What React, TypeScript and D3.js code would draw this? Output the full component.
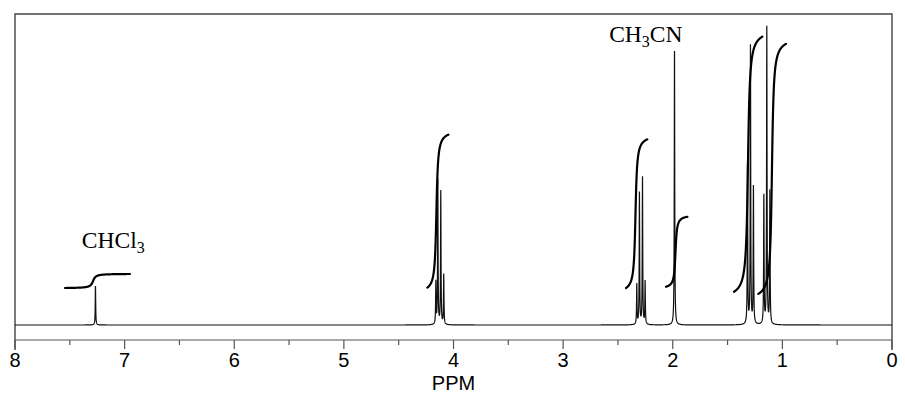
import React from 'react';
import * as d3 from 'd3';

// peaks: chemical shift (ppm) and apex height (0..100 of plot height)
const peakShifts = [
  7.266,
  4.161, 4.143, 4.116, 4.089,
  2.328, 2.304, 2.276, 2.252,
  1.984,
  1.318, 1.291, 1.264,
  1.169, 1.142, 1.114,
];
const peakHeights = [
  12.5,
  13.5, 46.5, 42.8, 16.1,
  12.9, 42.4, 47.3, 13.8,
  88.1,
  51.4, 89.4, 44.1,
  41.2, 95.5, 42.8,
];

// integral traces: region start/end (ppm), step centre and spread (ppm), start and end level
const integralFrom = [7.544, 4.239, 2.426, 2.062, 1.441, 1.22];
const integralTo = [6.951, 4.047, 2.232, 1.867, 1.183, 0.967];
const integralCenter = [7.288, 4.156, 2.34, 1.975, 1.314, 1.095];
const integralSpread = [0.018, 0.011, 0.011, 0.01, 0.013, 0.012];
const integralBase = [11.9, 12.0, 11.9, 12.3, 10.7, 10.0];
const integralTop = [16.4, 61.2, 59.7, 34.8, 92.7, 90.4];

const labels = [
  { text: 'CHCl', sub: '3', ppm: 7.39, level: 24.6 },
  { text: 'CH', sub: '3', after: 'CN', ppm: 2.58, level: 91.1 },
];

const ticks = [8, 7, 6, 5, 4, 3, 2, 1, 0];
const minorTicks = [7.5, 6.5, 5.5, 4.5, 3.5, 2.5, 1.5, 0.5];

const W = 905;
const H = 398;
const left = 15;
const right = 892;
const top = 14;
const baseY = 325;
const axisY = 340;

const lineWidth = 0.0025; // ppm half width of each line

export default function App() {
  const x = d3.scaleLinear().domain([8, 0]).range([left, right]);
  const y = d3.scaleLinear().domain([0, 100]).range([baseY, top]);

  const spectrumAt = (p: number) => {
    let s = 0;
    peakShifts.forEach((p0, i) => {
      const d = p - p0;
      s += (peakHeights[i] * lineWidth * lineWidth) / (d * d + lineWidth * lineWidth);
    });
    return s;
  };

  const grid = d3.range(8, -0.00001, -0.0005);
  // make sure each apex is sampled
  const samples = grid.concat(peakShifts).sort((a, b) => b - a);
  const spectrumLine = d3
    .line<number>()
    .x((p) => x(p))
    .y((p) => y(spectrumAt(p)));

  const integralPaths = integralFrom.map((from, r) => {
    const to = integralTo[r];
    const c = integralCenter[r];
    const w = integralSpread[r];
    const G = (p: number) => Math.atan((c - p) / w);
    const g0 = G(from);
    const g1 = G(to);
    const pts = d3.range(from, to - 0.00001, -0.001);
    const line = d3
      .line<number>()
      .x((p) => x(p))
      .y((p) => y(integralBase[r] + (integralTop[r] - integralBase[r]) * ((G(p) - g0) / (g1 - g0))))
      .curve(d3.curveBasis);
    return line(pts) || '';
  });

  return (
    <svg
      width={W}
      height={H}
      style={{ position: 'absolute', left: 0, top: 0, background: '#fff' }}
    >
      <path
        d={`M${left},350V${top}H${right}V350`}
        fill="none"
        stroke="#444"
        strokeWidth={1.4}
      />
      <line x1={left} x2={right} y1={axisY} y2={axisY} stroke="#555" strokeWidth={1.2} />
      {ticks.map((t) => (
        <g key={t}>
          <line x1={x(t)} x2={x(t)} y1={axisY} y2={349} stroke="#555" strokeWidth={1.2} />
          <text
            x={x(t)}
            y={367}
            textAnchor="middle"
            fontFamily="'Liberation Sans', Arial, sans-serif"
            fontSize={20}
            fill="#000"
          >
            {t}
          </text>
        </g>
      ))}
      {minorTicks.map((t) => (
        <line key={t} x1={x(t)} x2={x(t)} y1={axisY} y2={345} stroke="#555" strokeWidth={1.2} />
      ))}
      <text
        x={x(4)}
        y={390}
        textAnchor="middle"
        fontFamily="'Liberation Sans', Arial, sans-serif"
        fontSize={20}
        fill="#000"
      >
        PPM
      </text>

      <path d={spectrumLine(samples) || ''} fill="none" stroke="#111" strokeWidth={1.2} />

      {integralPaths.map((d, i) => (
        <path key={i} d={d} fill="none" stroke="#000" strokeWidth={2.2} strokeLinecap="round" />
      ))}

      {labels.map((l, i) => (
        <text
          key={i}
          x={x(l.ppm)}
          y={y(l.level)}
          fontFamily="'Liberation Serif', 'Times New Roman', serif"
          fontSize={23.5}
          fill="#000"
        >
          {l.text}
          <tspan fontSize={16} dy={5}>
            {l.sub}
          </tspan>
          {l.after ? <tspan dy={-5}>{l.after}</tspan> : null}
        </text>
      ))}
    </svg>
  );
}
